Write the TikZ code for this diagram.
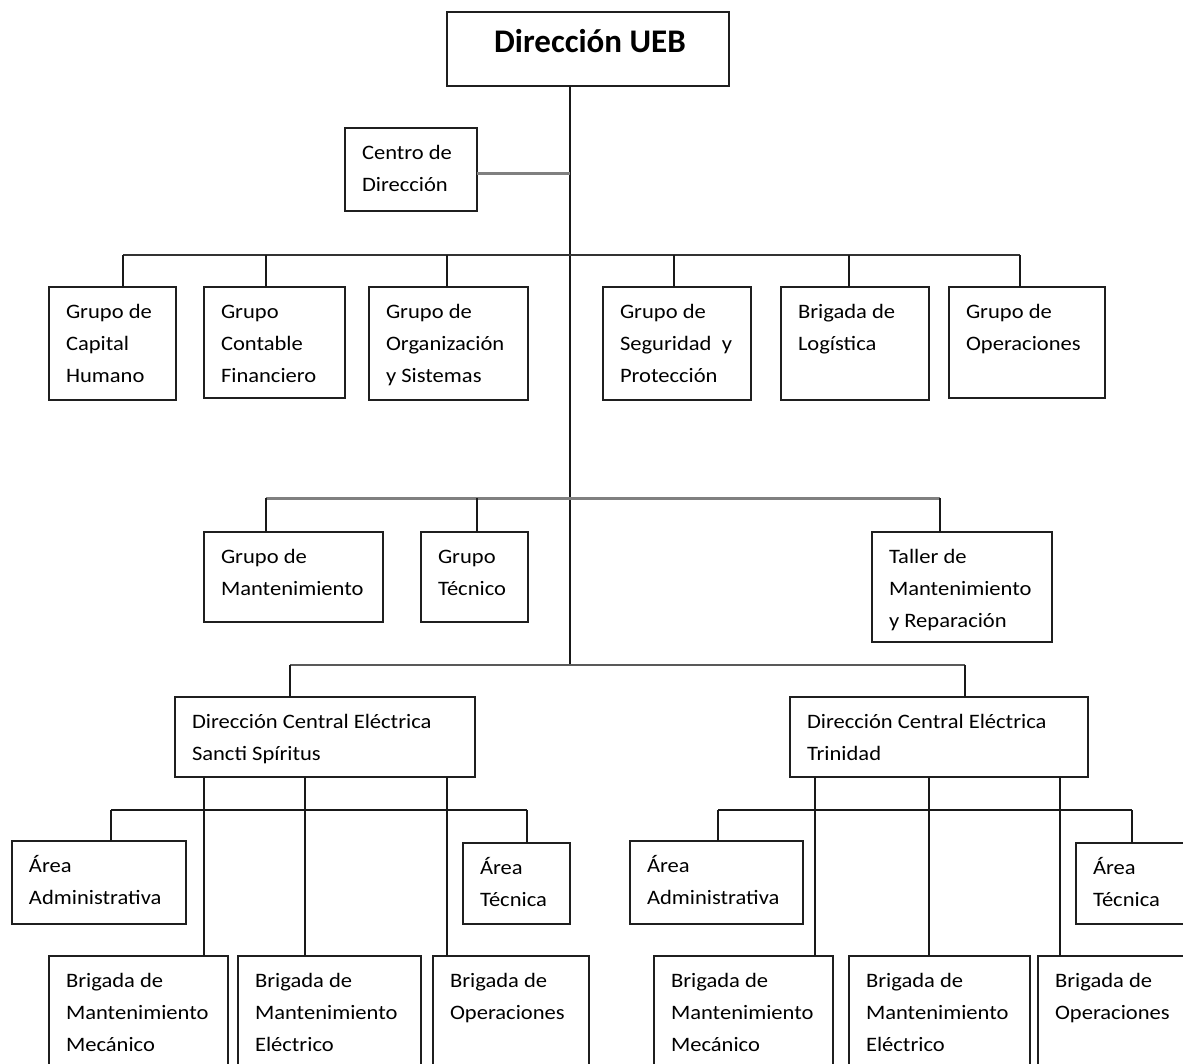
\documentclass[tikz,border=0pt]{standalone}
\usepackage{fontspec}
\setmainfont{Carlito}[FakeStretch=1.1]
\newfontfamily\titlefont{Carlito}
\usetikzlibrary{calc}

% text cell: width, height, lines (left aligned, fixed first baseline)
\newcommand\cell[3]{\parbox[t][#2][t]{#1}{\fontsize{20.5}{32}\selectfont\raggedright\leftskip=17pt\rule{0pt}{31pt}#3\par}}

\tikzset{
  box/.style={draw=black!88, line width=1.6pt, inner sep=0pt, outer sep=0pt, anchor=north west},
  link/.style={draw=black!90, line width=1.9pt},
  darkbus/.style={draw=black!80, line width=2pt},
  greybus/.style={draw=black!50, line width=3pt},
  midbus/.style={draw=black!65, line width=2.6pt},
}

\begin{document}
\begin{tikzpicture}[x=1pt, y=-1pt]
\useasboundingbox (0,0) rectangle (1183,1063);
\fill[white] (0,0) rectangle (1183,1063);
\clip (0,0) rectangle (1183,1063);

% top management
\node[box] (ueb) at (447,12) {\parbox[t][74pt][t]{282pt}{\centering\titlefont\bfseries\fontsize{33}{38}\selectfont\rule{0pt}{40pt}\hspace*{4pt}Dirección UEB\par}};
\node[box] (cdd) at (345,128) {\cell{132pt}{83pt}{Centro de\\Dirección}};

% first row of groups
\node[box] (chum) at (49,287)  {\cell{127pt}{113pt}{Grupo de\\Capital\\Humano}};
\node[box] (ccf)  at (204,287) {\cell{141pt}{111pt}{Grupo\\Contable\\Financiero}};
\node[box] (cos)  at (369,287) {\cell{159pt}{113pt}{Grupo de\\Organización\\y Sistemas}};
\node[box] (csp)  at (603,287) {\cell{148pt}{113pt}{Grupo de\\Seguridad\ \ y\\Protección}};
\node[box] (blog) at (781,287) {\cell{148pt}{113pt}{Brigada de\\Logística}};
\node[box] (gop)  at (949,287) {\cell{156pt}{111pt}{Grupo de\\Operaciones}};

% second row
\node[box] (gman) at (204,532) {\cell{179pt}{90pt}{Grupo de\\Mantenimiento}};
\node[box] (gtec) at (421,532) {\cell{107pt}{90pt}{Grupo\\Técnico}};
\node[box] (tmr)  at (872,532) {\cell{180pt}{110pt}{Taller de\\Mantenimiento\\y Reparación}};

% power plant directorates
\node[box] (dss) at (175,697) {\cell{300pt}{80pt}{Dirección Central Eléctrica\\Sancti Spíritus}};
\node[box] (dtr) at (790,697) {\cell{298pt}{80pt}{Dirección Central Eléctrica\\Trinidad}};

% Sancti Spiritus units
\node[box] (aad1) at (12,841)  {\cell{174pt}{83pt}{Área\\Administrativa}};
\node[box] (ate1) at (463,843) {\cell{107pt}{81pt}{Área\\Técnica}};
\node[box] (bmm1) at (49,956)  {\cell{179pt}{120pt}{Brigada de\\Mantenimiento\\Mecánico}};
\node[box] (bme1) at (238,956) {\cell{183pt}{120pt}{Brigada de\\Mantenimiento\\Eléctrico}};
\node[box] (bop1) at (433,956) {\cell{156pt}{120pt}{Brigada de\\Operaciones}};

% Trinidad units
\node[box] (aad2) at (630,841)  {\cell{173pt}{83pt}{Área\\Administrativa}};
\node[box] (ate2) at (1076,843) {\cell{120pt}{81pt}{Área\\Técnica}};
\node[box] (bmm2) at (654,956)  {\cell{179pt}{120pt}{Brigada de\\Mantenimiento\\Mecánico}};
\node[box] (bme2) at (849,956)  {\cell{181pt}{120pt}{Brigada de\\Mantenimiento\\Eléctrico}};
\node[box] (bop2) at (1038,956) {\cell{158pt}{120pt}{Brigada de\\Operaciones}};

% bus levels
\coordinate (trk) at ([xshift=123pt]ueb.south west);
\coordinate (b1) at (570,255);
\coordinate (b2) at (570,498);
\coordinate (b3) at (570,665);
\coordinate (b4) at (305,810);
\coordinate (b5) at (929,810);

% main trunk
\draw[link] (trk) -- (trk |- b3);
\draw[greybus] ([yshift=-3.5pt]cdd.east) -- ([yshift=-3.5pt]cdd.east -| trk);

% first bus
\draw[darkbus] ([xshift=74pt]chum.north west |- b1) -- ([xshift=71pt]gop.north west |- b1);
\foreach \n/\d in {chum/74, ccf/62, cos/78, csp/71, blog/68, gop/71}
  \draw[link] ([xshift=\d pt]\n.north west) -- ([xshift=\d pt]\n.north west |- b1);

% second bus
\draw[greybus] ([xshift=62pt]gman.north west |- b2) -- ([xshift=68pt]tmr.north west |- b2);
\foreach \n/\d in {gman/62, gtec/56, tmr/68}
  \draw[link] ([xshift=\d pt]\n.north west) -- ([xshift=\d pt]\n.north west |- b2);

% third bus
\draw[midbus] ([xshift=115pt]dss.north west |- b3) -- ([xshift=175pt]dtr.north west |- b3);
\foreach \n/\d in {dss/115, dtr/175}
  \draw[link] ([xshift=\d pt]\n.north west) -- ([xshift=\d pt]\n.north west |- b3);

% Sancti Spiritus branches
\foreach \d/\t in {29/bmm1, 130/bme1, 272/bop1}
  \draw[link] ([xshift=\d pt]dss.south west) -- ([xshift=\d pt]dss.south west |- \t.north);
\draw[link] ([xshift=99pt]aad1.north west |- b4) -- ([xshift=64pt]ate1.north west |- b4);
\foreach \n/\d in {aad1/99, ate1/64}
  \draw[link] ([xshift=\d pt]\n.north west) -- ([xshift=\d pt]\n.north west |- b4);

% Trinidad branches
\foreach \d/\t in {25/bmm2, 139/bme2, 270/bop2}
  \draw[link] ([xshift=\d pt]dtr.south west) -- ([xshift=\d pt]dtr.south west |- \t.north);
\draw[link] ([xshift=88pt]aad2.north west |- b5) -- ([xshift=56pt]ate2.north west |- b5);
\foreach \n/\d in {aad2/88, ate2/56}
  \draw[link] ([xshift=\d pt]\n.north west) -- ([xshift=\d pt]\n.north west |- b5);
\end{tikzpicture}
\end{document}
